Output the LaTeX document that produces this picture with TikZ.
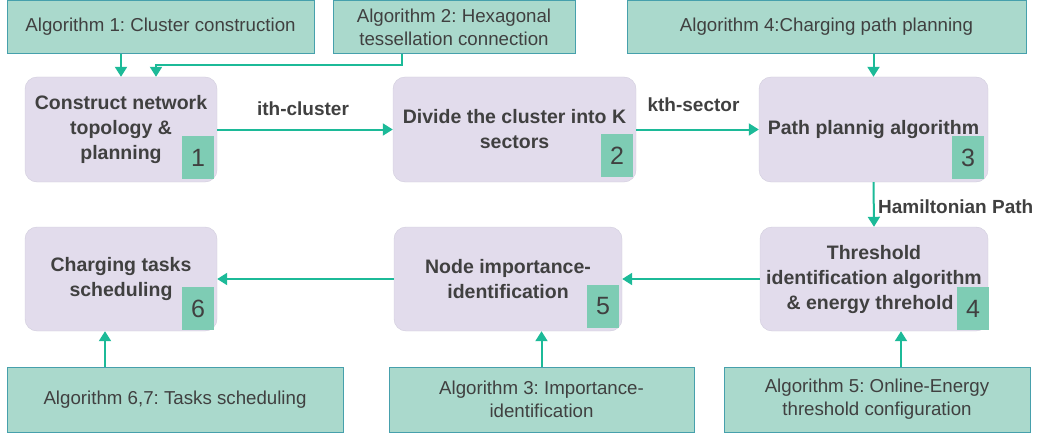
\documentclass[tikz,border=0pt]{standalone}
\usepackage{fontspec}
\setmainfont{Liberation Sans}
\usetikzlibrary{calc,arrows.meta}
\frenchspacing

\definecolor{algfill}{RGB}{170,217,204}
\definecolor{algline}{RGB}{70,160,172}
\definecolor{stepfill}{RGB}{226,220,236}
\definecolor{stepline}{RGB}{208,204,220}
\definecolor{numfill}{RGB}{126,204,180}
\definecolor{flowcol}{RGB}{28,186,152}
\definecolor{txt}{RGB}{64,64,64}

\tikzset{
  algbox/.style={draw=algline, fill=algfill, line width=1pt, text=txt, align=center,
    minimum height=53pt, inner sep=0pt, font=\fontsize{18.7}{23}\selectfont},
  stepbox/.style={draw=stepline, fill=stepfill, rounded corners=12pt, minimum height=104pt,
    inner sep=0pt, text=txt, align=center, font=\bfseries\fontsize{19.5}{25}\selectfont},
  numbox/.style={fill=numfill, minimum width=32pt, minimum height=43pt, inner sep=0pt,
    text=txt, font=\fontsize{25}{25}\selectfont, anchor=south east},
  flow/.style={draw=flowcol, line width=2pt, -{Triangle[length=10pt,width=12pt]}},
  lbl/.style={text=txt, font=\bfseries\fontsize{19}{22}\selectfont}
}

\begin{document}
\begin{tikzpicture}[x=1pt,y=-1pt]
    \useasboundingbox (0,0) rectangle (1042,436);
    % algorithm boxes
    \node[algbox, minimum width=307pt] (alga) at (160.5,27) {Algorithm 1: Cluster construction};
    \node[algbox, minimum width=242pt] (algb) at (454,27) {Algorithm 2: Hexagonal\\tessellation connection};
    \node[algbox, minimum width=399pt] (algd) at (826.5,27) {Algorithm 4:Charging path planning};
    \node[algbox, minimum width=336pt, minimum height=65pt] (algf) at (175,399.5) {Algorithm 6,7: Tasks scheduling};
    \node[algbox, minimum width=305pt, minimum height=65pt] (algc) at (541.5,399.5) {Algorithm 3: Importance-\\identification};
    \node[algbox, minimum width=306pt, minimum height=65pt] (alge) at (877,399.5) {Algorithm 5: Online-Energy\\threshold configuration};
    % steps
    \node[stepbox, minimum width=192pt, minimum height=105pt] (box1) at (121,129.5) {Construct network\\topology \&\\planning};
    \node[stepbox, minimum width=243pt, minimum height=105pt] (box2) at (514.5,129.5) {Divide the cluster into K\\sectors};
    \node[stepbox, minimum width=229pt, minimum height=105pt] (box3) at (873.5,129.5) {Path plannig algorithm};
    \node[stepbox, minimum width=228pt] (box4) at (874,279) {Threshold\\identification algorithm\\\hspace*{-4pt}\& energy threhold\hspace*{4pt}};
    \node[stepbox, minimum width=228pt] (box5) at (508,279) {Node importance-\\identification};
    \node[stepbox, minimum width=192pt] (box6) at (121,279) {Charging tasks\\scheduling};
    \foreach \b/\n/\dx/\dy in {box1/1/-3/3,box2/2/-3/5,box3/3/-4/3,box4/4/1/1,box5/5/-3/3,box6/6/-3/1}
        {\node[numbox, xshift=\dx pt, yshift=\dy pt] (num\n) at (\b.south east) {\n};}
    % connectors
    \draw[flow] (box1.north |- alga.south) -- (box1.north);
    \draw[flow] ($(algb.south west)+(69,0)$) -- ++(0,11) -| ($(box1.north)+(35,0)$);
    \draw[flow] (box3.north |- algd.south) -- (box3.north);
    \draw[flow] (box1.east) -- (box2.west) node[lbl, midway, xshift=-2pt, yshift=21pt] {ith-cluster};
    \draw[flow] (box2.east) -- (box3.west) node[lbl, midway, xshift=-4pt, yshift=25pt] {kth-sector};
    \draw[flow] (box3.south) -- (box4.north) node[lbl, midway, right, yshift=-2pt] {Hamiltonian Path};
    \draw[flow] (box4.west) -- (box5.east);
    \draw[flow] (box5.west) -- (box6.east);
    \draw[flow] ([xshift=-16pt]box6.south |- algf.north) -- ([xshift=-16pt]box6.south);
    \draw[flow] (algc.north) -- (algc.north |- box5.south);
    \draw[flow] ([xshift=24pt]alge.north) -- ([xshift=24pt]alge.north |- box4.south);
\end{tikzpicture}
\end{document}
